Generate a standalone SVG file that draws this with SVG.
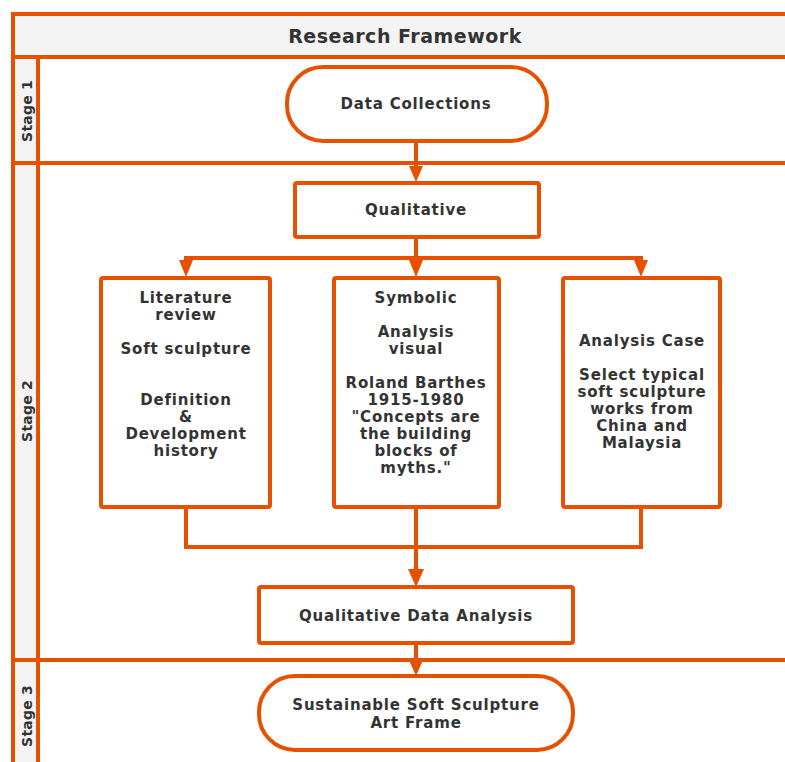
<svg xmlns="http://www.w3.org/2000/svg" width="785" height="762" viewBox="0 0 785 762">
<defs>
<style>
.ln{stroke:#e65100;stroke-width:4;fill:none}
.box{stroke:#e65100;stroke-width:4;fill:#ffffff}
.t{font-family:"DejaVu Sans","Verdana",sans-serif;font-weight:bold;font-size:15px;fill:#333333;text-anchor:middle;letter-spacing:0.8px}
.title{font-size:19px;letter-spacing:0.5px}
.stage{font-size:14px;letter-spacing:0.2px}
.arr{fill:#e65100}
</style>
</defs>
<rect width="785" height="762" fill="#ffffff"/>
<g id="pool">
<rect x="13" y="14" width="780" height="43" fill="#f3f3f3"/>
<rect x="13" y="57" width="25" height="710" fill="#f3f3f3"/>
<line class="ln" x1="11" y1="14" x2="790" y2="14"/>
<line class="ln" x1="13" y1="12" x2="13" y2="765"/>
<line class="ln" x1="13" y1="57" x2="790" y2="57"/>
<line class="ln" x1="38" y1="57" x2="38" y2="765"/>
<line class="ln" x1="13" y1="163" x2="790" y2="163"/>
<line class="ln" x1="13" y1="660" x2="790" y2="660"/>
<text class="t title" x="405" y="43">Research Framework</text>
<text class="t stage" transform="translate(32,111) rotate(-90)">Stage 1</text>
<text class="t stage" transform="translate(32,411) rotate(-90)">Stage 2</text>
<text class="t stage" transform="translate(32,716) rotate(-90)">Stage 3</text>
</g>
<g id="connectors">
<line class="ln" x1="416" y1="141" x2="416" y2="168"/>
<polygon class="arr" points="409,166 423,166 416,182"/>
<polyline class="ln" points="416,237 416,258"/>
<polyline class="ln" points="186,262 186,258 641,258 641,262"/>
<polygon class="arr" points="179,260 193,260 186,277"/>
<polygon class="arr" points="409,260 423,260 416,277"/>
<polygon class="arr" points="634,260 648,260 641,277"/>
<polyline class="ln" points="186,507 186,547 641,547 641,507"/>
<line class="ln" x1="416" y1="507" x2="416" y2="572"/>
<polygon class="arr" points="408,569 424,569 416,587"/>
<line class="ln" x1="416" y1="643" x2="416" y2="662"/>
<polygon class="arr" points="409,660 423,660 416,676"/>
</g>
<g id="data-collections">
<rect class="box" x="287" y="67" width="260" height="74" rx="36" ry="36"/>
<text class="t" x="416" y="109">Data Collections</text>
</g>
<g id="qualitative">
<rect class="box" x="295" y="183" width="244" height="54" rx="2"/>
<text class="t" x="416" y="215">Qualitative</text>
</g>
<g id="literature">
<rect class="box" x="101" y="278" width="169" height="229" rx="2"/>
<text class="t" x="186" y="303">Literature</text>
<text class="t" x="186" y="320">review</text>
<text class="t" x="186" y="354">Soft sculpture</text>
<text class="t" x="186" y="405">Definition</text>
<text class="t" x="186" y="422">&amp;</text>
<text class="t" x="186" y="439">Development</text>
<text class="t" x="186" y="456">history</text>
</g>
<g id="symbolic">
<rect class="box" x="334" y="278" width="165" height="229" rx="2"/>
<text class="t" x="416" y="303">Symbolic</text>
<text class="t" x="416" y="337">Analysis</text>
<text class="t" x="416" y="354">visual</text>
<text class="t" x="416" y="388">Roland Barthes</text>
<text class="t" x="416" y="405">1915-1980</text>
<text class="t" x="416" y="422">"Concepts are</text>
<text class="t" x="416" y="439">the building</text>
<text class="t" x="416" y="456">blocks of</text>
<text class="t" x="416" y="473">myths."</text>
</g>
<g id="analysis-case">
<rect class="box" x="563" y="278" width="157" height="229" rx="2"/>
<text class="t" x="642" y="346">Analysis Case</text>
<text class="t" x="642" y="380">Select typical</text>
<text class="t" x="642" y="397">soft sculpture</text>
<text class="t" x="642" y="414">works from</text>
<text class="t" x="642" y="431">China and</text>
<text class="t" x="642" y="448">Malaysia</text>
</g>
<g id="qda">
<rect class="box" x="259" y="587" width="314" height="56" rx="2"/>
<text class="t" x="416" y="621">Qualitative Data Analysis</text>
</g>
<g id="sustainable">
<rect class="box" x="259" y="676" width="314" height="74" rx="36" ry="36"/>
<text class="t" x="416" y="710">Sustainable Soft Sculpture</text>
<text class="t" x="416" y="728">Art Frame</text>
</g>
</svg>
